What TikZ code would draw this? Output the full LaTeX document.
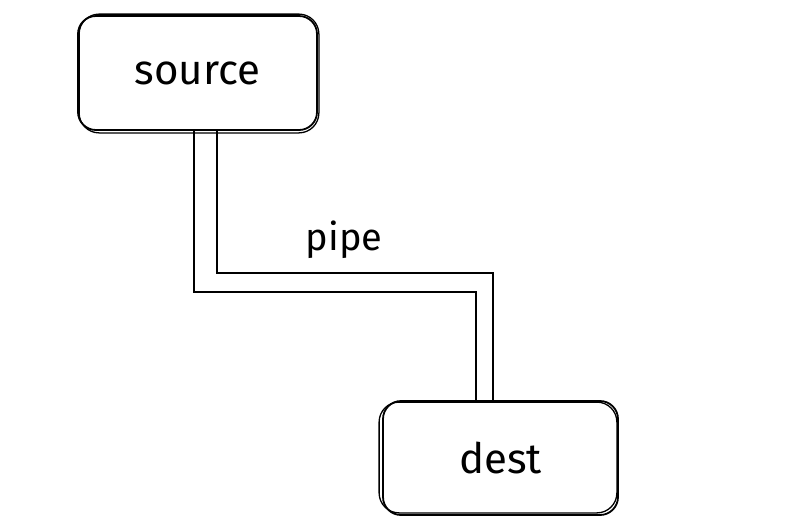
\documentclass[tikz,border=0pt]{standalone}
\usepackage{fontspec}
\setmainfont{Fira Sans}
\begin{document}
\begin{tikzpicture}[x=1pt,y=-1pt,
  boxstyle/.style={draw, line width=1.8pt, rounded corners=18pt, minimum width=239pt, minimum height=114pt, inner sep=0pt, font=\fontsize{42}{48}\selectfont},
  sketch/.style={draw, line width=1.3pt, rounded corners=20pt},
  pipeline/.style={draw, line width=1.7pt},
  lbl/.style={font=\fontsize{38}{44}\selectfont, inner sep=0pt}]
\useasboundingbox (0,0) rectangle (806,531);
\node[boxstyle] (src) at (197.5,73) {source};
\node[boxstyle, minimum width=235pt] (dst) at (500.5,458) {dest};
\draw[sketch] ([shift={(2,-1)}]src.north west) rectangle ([shift={(1,2)}]src.south east);
\draw[sketch] ([shift={(-3,2)}]dst.north west) rectangle ([shift={(-2,-3)}]dst.south east);
\draw[pipeline] ([xshift=117pt]src.south west) -- ++(0,161) -| ([xshift=94pt]dst.north west);
\draw[pipeline] ([xshift=140pt]src.south west) -- ++(0,142) -| ([xshift=111pt]dst.north west);
\node[lbl] (pipelbl) at (344,240) {pipe};
\end{tikzpicture}
\end{document}
